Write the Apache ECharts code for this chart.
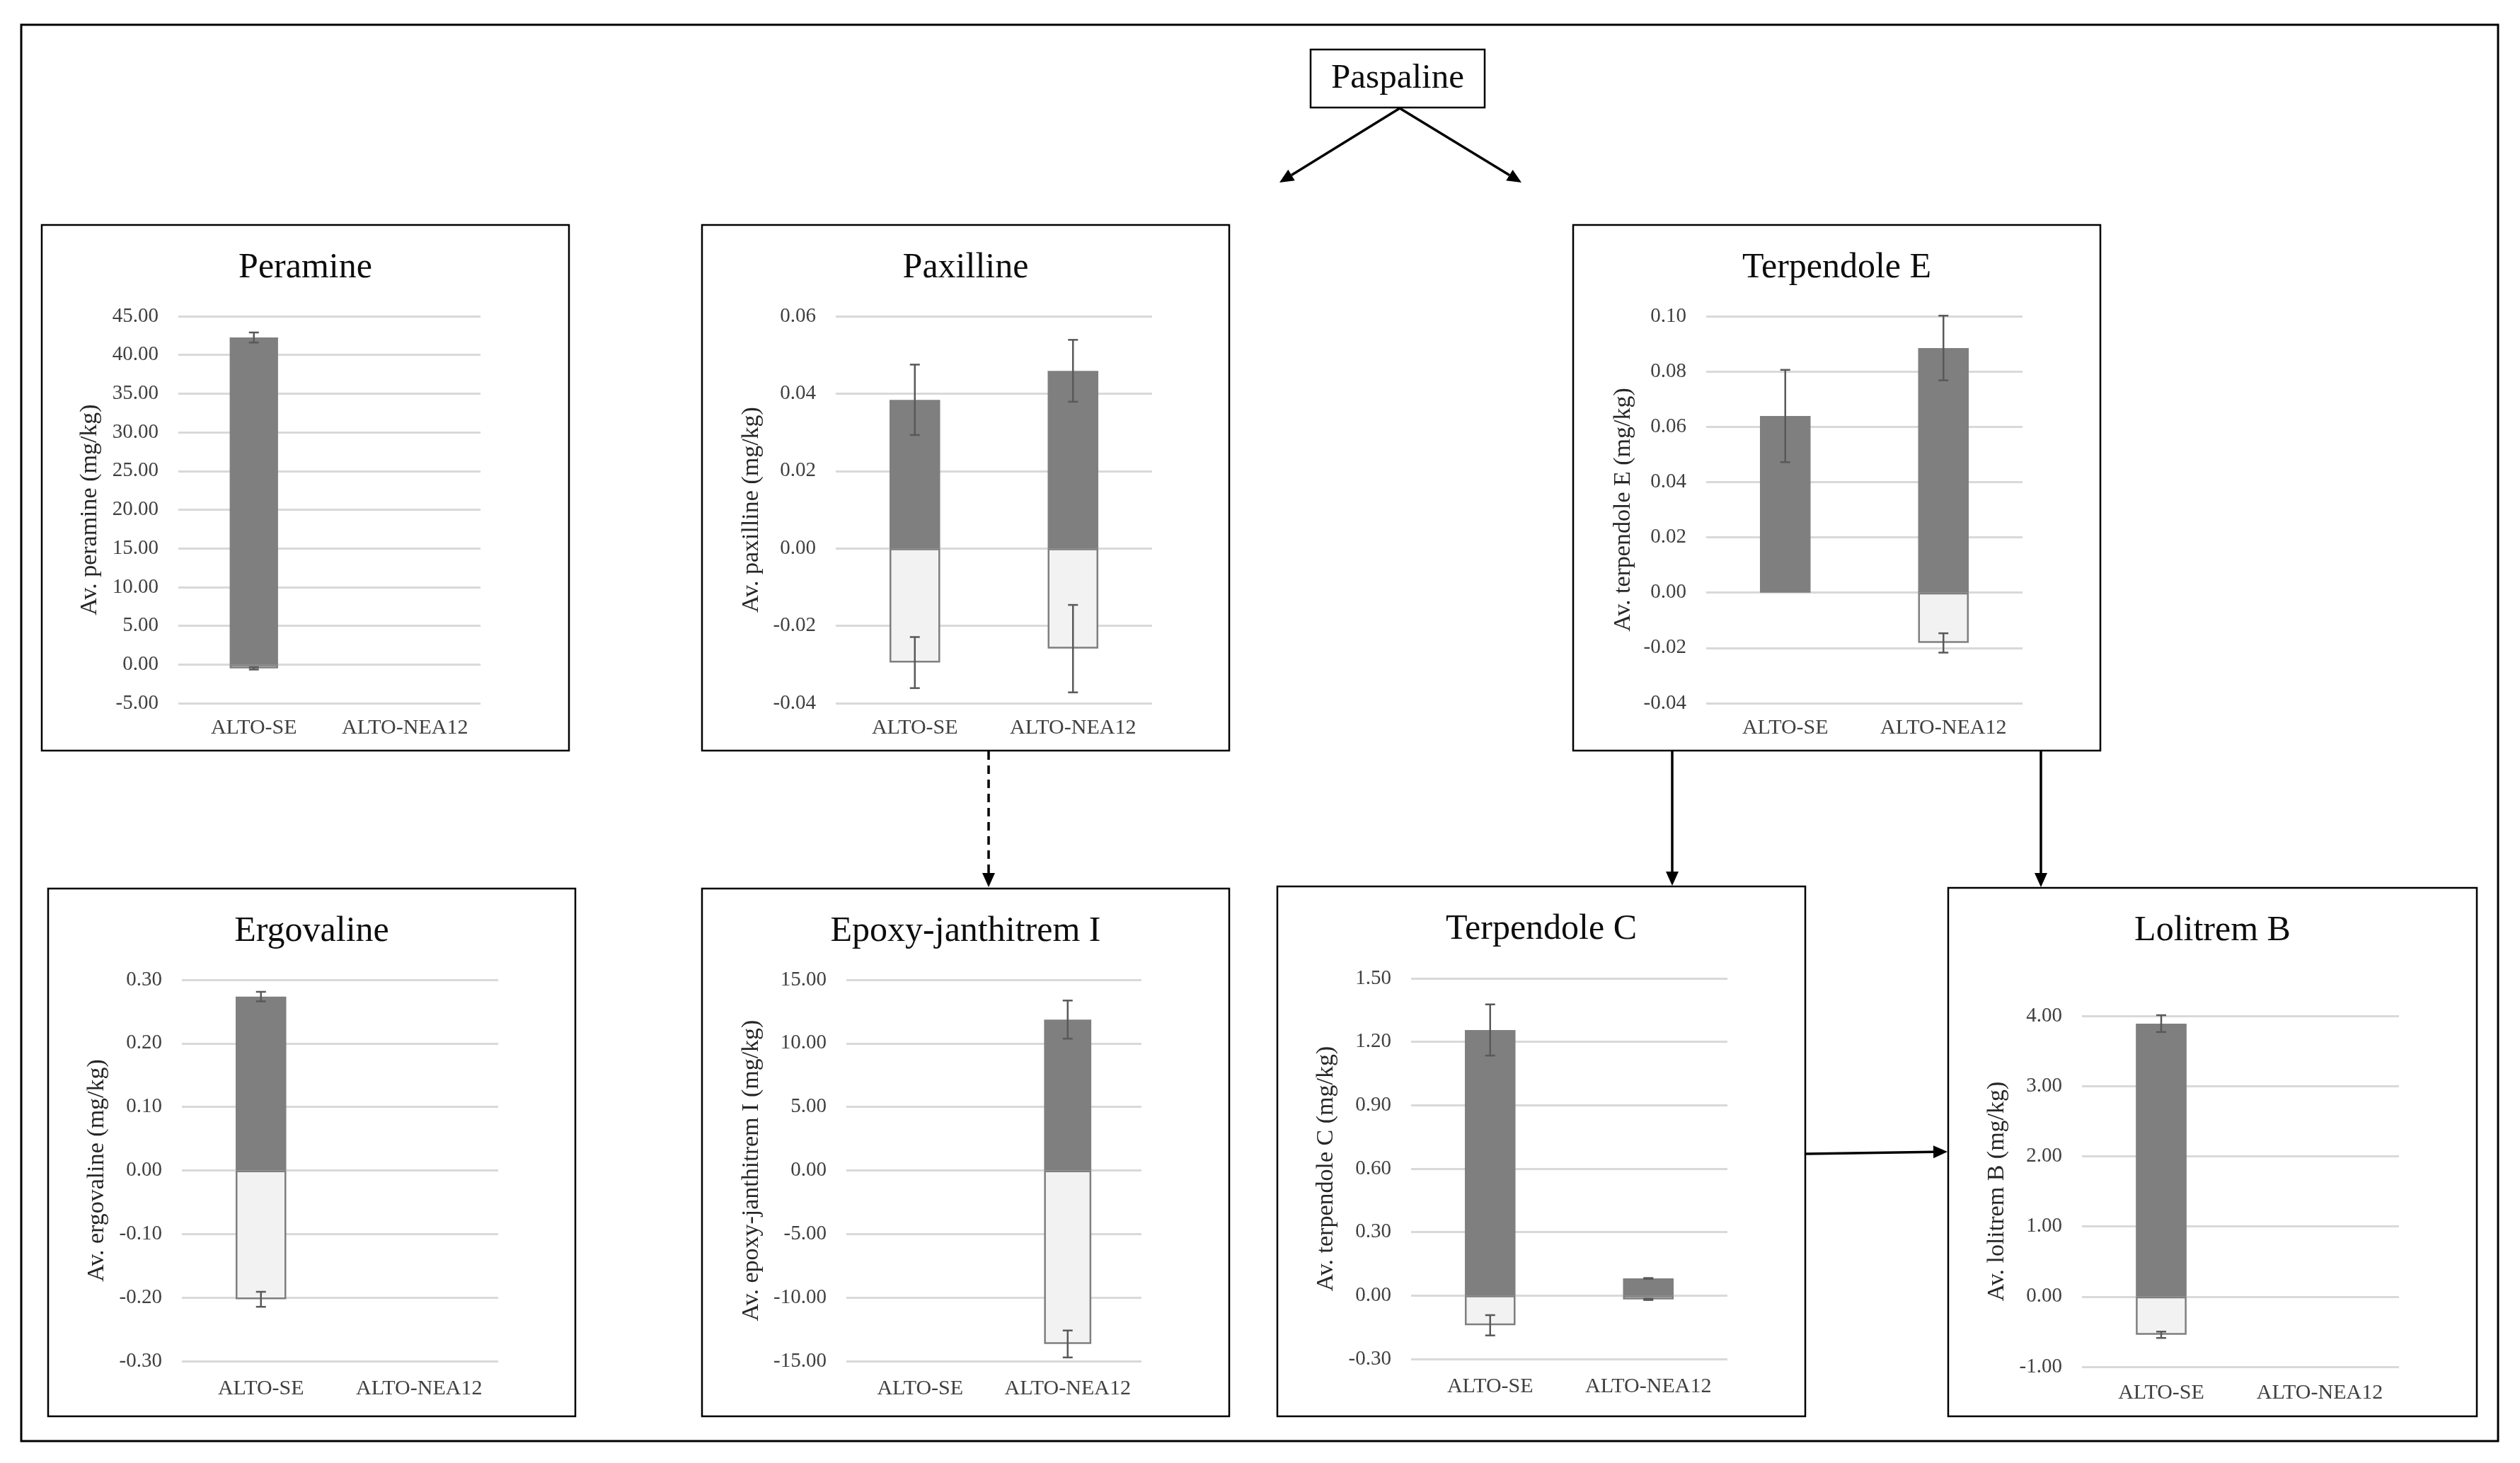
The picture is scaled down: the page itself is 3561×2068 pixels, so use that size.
<!DOCTYPE html>
<html><head><meta charset="utf-8">
<script src="https://cdn.jsdelivr.net/npm/echarts@6/dist/echarts.min.js"></script>
<style>html,body{margin:0;padding:0;background:#fff}#c{width:3561px;height:2068px}</style>
</head><body><div id="c"></div>
<script>
// ---------- data ----------
const categories = ['ALTO-SE', 'ALTO-NEA12'];
const panelTitles = ['Peramine', 'Paxilline', 'Terpendole E', 'Ergovaline', 'Epoxy-janthitrem I', 'Terpendole C', 'Lolitrem B'];
const axisNames = ['Av. peramine (mg/kg)', 'Av. paxilline (mg/kg)', 'Av. terpendole E (mg/kg)', 'Av. ergovaline (mg/kg)', 'Av. epoxy-janthitrem I (mg/kg)', 'Av. terpendole C (mg/kg)', 'Av. lolitrem B (mg/kg)'];
const axisMin = [-5, -0.04, -0.04, -0.3, -15, -0.3, -1];
const axisMax = [45, 0.06, 0.10, 0.3, 15, 1.5, 4];
const axisStep = [5, 0.02, 0.02, 0.1, 5, 0.3, 1];

const peraminePos = [42.25, null], peraminePosErr = [0.65, null];
const peramineNeg = [-0.5, null], peramineNegErr = [0.15, null];
const paxillinePos = [0.0384, 0.0459], paxillinePosErr = [0.0091, 0.0080];
const paxillineNeg = [-0.0295, -0.0259], paxillineNegErr = [0.0066, 0.0113];
const terpEPos = [0.0639, 0.0885], terpEPosErr = [0.0167, 0.0117];
const terpENeg = [null, -0.0182], terpENegErr = [null, 0.0035];
const ergovalinePos = [0.2736, null], ergovalinePosErr = [0.0075, null];
const ergovalineNeg = [-0.2027, null], ergovalineNegErr = [0.0118, null];
const epoxyPos = [null, 11.87], epoxyPosErr = [null, 1.5];
const epoxyNeg = [null, -13.65], epoxyNegErr = [null, 1.06];
const terpCPos = [1.256, 0.081], terpCPosErr = [0.121, 0.002];
const terpCNeg = [-0.1405, -0.018], terpCNegErr = [0.048, 0.003];
const lolitremPos = [3.89, null], lolitremPosErr = [0.12, null];
const lolitremNeg = [-0.544, null], lolitremNegErr = [0.045, null];

const posSets = [peraminePos, paxillinePos, terpEPos, ergovalinePos, epoxyPos, terpCPos, lolitremPos];
const posErrSets = [peraminePosErr, paxillinePosErr, terpEPosErr, ergovalinePosErr, epoxyPosErr, terpCPosErr, lolitremPosErr];
const negSets = [peramineNeg, paxillineNeg, terpENeg, ergovalineNeg, epoxyNeg, terpCNeg, lolitremNeg];
const negErrSets = [peramineNegErr, paxillineNegErr, terpENegErr, ergovalineNegErr, epoxyNegErr, terpCNegErr, lolitremNegErr];

// ---------- layout ----------
const boxes = [
  [59, 318, 745, 743], [992, 318, 745, 743], [2223, 318, 745, 743],
  [68, 1256, 745, 746], [992, 1256, 745, 746], [1805, 1253, 746, 749], [2753, 1255, 747, 747]
];
const grids = [
  [252, 447, 427, 547], [1181, 447, 447, 547], [2411, 447, 447, 547],
  [257, 1385, 447, 539], [1196, 1385, 417, 539], [1994, 1383, 447, 538], [2942, 1436, 448, 496]
];
const nameGaps = [108, 102, 100, 103, 117, 103, 103];
const catMargins = [20, 20, 20, 24, 24, 24, 22];

const FONT = "'Liberation Serif', 'Times New Roman', serif";
const DARK = '#7f7f7f', LIGHT = '#f2f2f2', ERR = '#595959';

function errRender(params, api) {
  const idx = api.value(0), v = api.value(1), e = api.value(2);
  const hi = api.coord([idx, v + e]), lo = api.coord([idx, v - e]);
  const hw = 7;
  const style = { stroke: ERR, lineWidth: 2.5 };
  return { type: 'group', children: [
    { type: 'line', shape: { x1: hi[0], y1: hi[1], x2: lo[0], y2: lo[1] }, style },
    { type: 'line', shape: { x1: hi[0] - hw, y1: hi[1], x2: hi[0] + hw, y2: hi[1] }, style },
    { type: 'line', shape: { x1: lo[0] - hw, y1: lo[1], x2: lo[0] + hw, y2: lo[1] }, style }
  ]};
}
function errData(vals, errs) {
  const out = [];
  vals.forEach((v, i) => { if (v !== null && errs[i] !== null) out.push([i, v, errs[i]]); });
  return out;
}

const option = {
  animation: false,
  backgroundColor: '#fff',
  title: [], grid: [], xAxis: [], yAxis: [], series: [], graphic: []
};

for (let i = 0; i < 7; i++) {
  const b = boxes[i], g = grids[i];
  option.title.push({
    text: panelTitles[i], left: b[0] + b[2] / 2, top: b[1] + 36, textAlign: 'center', padding: 0,
    textStyle: { fontFamily: FONT, fontSize: 50, fontWeight: 'normal', color: '#0d0d0d' }
  });
  option.grid.push({ left: g[0], top: g[1], width: g[2], height: g[3], containLabel: false });
  option.xAxis.push({
    type: 'category', gridIndex: i, data: categories, position: 'bottom',
    axisLine: { show: false, onZero: false }, axisTick: { show: false },
    axisLabel: { interval: 0, margin: catMargins[i], fontFamily: FONT, fontSize: 30, color: '#404040' }
  });
  option.yAxis.push({
    type: 'value', gridIndex: i, min: axisMin[i], max: axisMax[i], interval: axisStep[i],
    name: axisNames[i], nameLocation: 'middle', nameGap: nameGaps[i],
    nameTextStyle: { fontFamily: FONT, fontSize: 34, color: '#262626' },
    axisLine: { show: false }, axisTick: { show: false },
    axisLabel: { margin: 28, fontFamily: FONT, fontSize: 29, color: '#404040', formatter: v => v.toFixed(2) },
    splitLine: { lineStyle: { color: '#d9d9d9', width: 3 } }
  });
  option.series.push({
    type: 'bar', xAxisIndex: i, yAxisIndex: i, data: posSets[i], barWidth: '32%', barGap: '-100%',
    itemStyle: { color: DARK }, z: 2
  });
  option.series.push({
    type: 'bar', xAxisIndex: i, yAxisIndex: i, data: negSets[i], barWidth: '32%', barGap: '-100%',
    itemStyle: { color: LIGHT, borderColor: DARK, borderWidth: 2.5 }, z: 2
  });
  option.series.push({
    type: 'custom', xAxisIndex: i, yAxisIndex: i, renderItem: errRender,
    data: errData(posSets[i], posErrSets[i]), encode: { x: 0, y: 1 }, z: 3
  });
  option.series.push({
    type: 'custom', xAxisIndex: i, yAxisIndex: i, renderItem: errRender,
    data: errData(negSets[i], negErrSets[i]), encode: { x: 0, y: 1 }, z: 3
  });
  option.graphic.push({
    type: 'rect', shape: { x: b[0], y: b[1], width: b[2], height: b[3] },
    style: { fill: null, stroke: '#000', lineWidth: 2.5 }, z: 10, silent: true
  });
}

// outer frame
option.graphic.push({
  type: 'rect', shape: { x: 30, y: 35, width: 3500, height: 2002 },
  style: { fill: null, stroke: '#000', lineWidth: 3 }, z: 10, silent: true
});
// Paspaline box
option.graphic.push({
  type: 'rect', shape: { x: 1852, y: 70, width: 246, height: 82 },
  style: { fill: '#fff', stroke: '#000', lineWidth: 2.5 }, z: 10, silent: true
});
option.graphic.push({
  type: 'text', x: 1975, y: 111, z: 11, silent: true,
  style: { text: 'Paspaline', font: "49px 'Liberation Serif', serif", fill: '#0d0d0d', align: 'center', verticalAlign: 'middle' }
});

function arrow(x1, y1, x2, y2, dashed) {
  const L = 20, W = 9;
  const dx = x2 - x1, dy = y2 - y1, len = Math.hypot(dx, dy);
  const ux = dx / len, uy = dy / len;
  const bx = x2 - ux * L, by = y2 - uy * L;
  option.graphic.push({
    type: 'line', shape: { x1, y1, x2: bx, y2: by }, z: 12, silent: true,
    style: { stroke: '#000', lineWidth: 3.5, lineDash: dashed ? [12, 8] : null }
  });
  option.graphic.push({
    type: 'polygon', z: 12, silent: true,
    shape: { points: [[x2, y2], [bx - uy * W, by + ux * W], [bx + uy * W, by - ux * W]] },
    style: { fill: '#000' }
  });
}
arrow(1978, 153, 1808, 258, false);
arrow(1978, 153, 2150, 258, false);
arrow(1397, 1062, 1397, 1254, true);
arrow(2363, 1062, 2363, 1252, false);
arrow(2884, 1062, 2884, 1254, false);
arrow(2552, 1631, 2752, 1628, false);

const chart = echarts.init(document.getElementById('c'), null, { renderer: 'canvas' });
chart.setOption(option);
</script>
</body></html>
